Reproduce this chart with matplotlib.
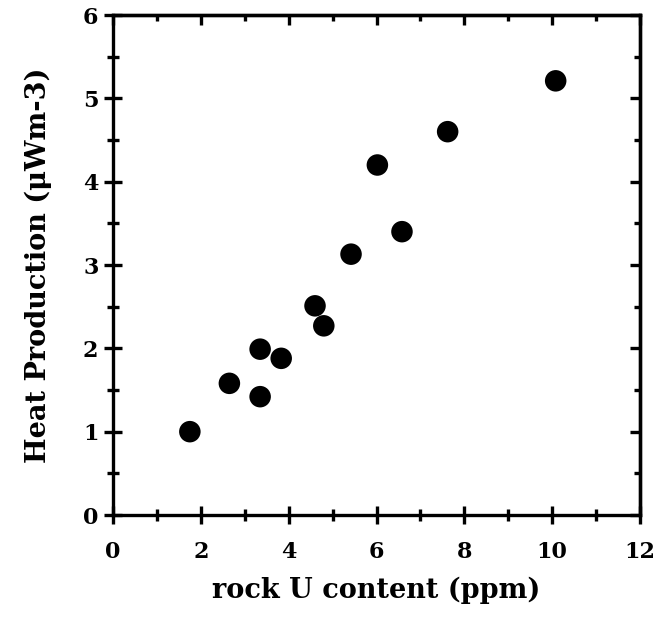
import numpy as np
import matplotlib.pyplot as plt
from matplotlib.ticker import MultipleLocator

#### data ####
u_ppm = [1.75, 2.65, 3.35, 3.35, 3.83, 4.60, 4.80, 5.42, 6.02, 6.58, 7.62, 10.08]
heat = [1.00, 1.58, 1.99, 1.42, 1.88, 2.51, 2.27, 3.13, 4.20, 3.40, 4.60, 5.21]

plt.rcParams['font.family'] = ['DejaVu Serif']
plt.rcParams['font.weight'] = 'bold'

fig = plt.figure(figsize=(6.55, 6.32), dpi=100)
ax = fig.add_axes([113/655, 117/632, 527/655, 500/632])

ax.scatter(u_ppm, heat, s=240, color='black', edgecolors='none', zorder=3)

ax.set_xlim(0, 12)
ax.set_ylim(0, 6)
ax.xaxis.set_major_locator(MultipleLocator(2))
ax.xaxis.set_minor_locator(MultipleLocator(1))
ax.yaxis.set_major_locator(MultipleLocator(1))
ax.yaxis.set_minor_locator(MultipleLocator(0.5))

for sp in ax.spines.values():
    sp.set_linewidth(2.4)

ax.tick_params(which='major', direction='inout', length=13, width=2.4, labelsize=16)
ax.tick_params(which='minor', direction='inout', length=8, width=2.4)
ax.tick_params(axis='x', which='major', pad=12)
ax.tick_params(axis='y', which='major', pad=4)

# top / right: inward ticks only, no labels
top = ax.secondary_xaxis('top')
top.xaxis.set_major_locator(MultipleLocator(2))
top.xaxis.set_minor_locator(MultipleLocator(1))
top.tick_params(which='major', direction='in', length=7, width=2.4, labeltop=False)
top.tick_params(which='minor', direction='in', length=4, width=2.4)
right = ax.secondary_yaxis('right')
right.yaxis.set_major_locator(MultipleLocator(1))
right.yaxis.set_minor_locator(MultipleLocator(0.5))
right.tick_params(which='major', direction='in', length=7, width=2.4, labelright=False)
right.tick_params(which='minor', direction='in', length=4, width=2.4)
for s in (top, right):
    for sp in s.spines.values():
        sp.set_linewidth(2.4)

for lab in ax.get_xticklabels() + ax.get_yticklabels():
    lab.set_fontweight('bold')

ax.set_xlabel('rock U content (ppm)', fontsize=19.5, fontweight='bold', labelpad=10)
ax.set_ylabel('Heat Production (\u03bcWm-3)', fontsize=19.5, fontweight='bold', labelpad=22)

fig.savefig('out.png', dpi=100)
